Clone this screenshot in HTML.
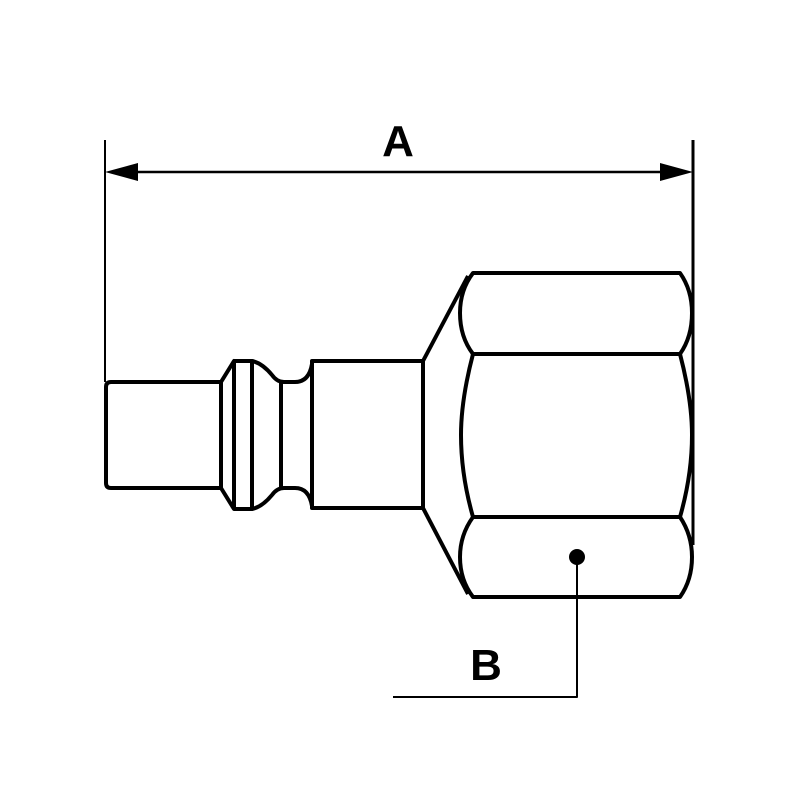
<!DOCTYPE html>
<html><head><style>body{margin:0;background:#fff}</style></head><body>
<svg width="800" height="800" viewBox="0 0 800 800" xmlns="http://www.w3.org/2000/svg">
<g fill="none" stroke="#000" stroke-linejoin="round">
<line x1="105" y1="140" x2="105" y2="382" stroke-width="2"/>
<line x1="693" y1="140" x2="693" y2="545" stroke-width="3"/>
<line x1="128" y1="172" x2="670" y2="172" stroke-width="2.5"/>
<g stroke-width="4">
<path d="M221 382 H111 Q106 382 106 387 V483 Q106 488 111 488 H221 Z"/>
<path d="M221 382 L234 361 V509 L221 488"/>
<path d="M234 361 H252 V509 H234"/>
<path d="M252 361 Q262 363 272 375 Q277 382 284 382 H295 Q309 382 312 364"/>
<path d="M252 509 Q262 507 272 495 Q277 488 284 488 H295 Q309 488 312 506"/>
<line x1="281" y1="382" x2="281" y2="488"/>
<rect x="312" y="361" width="111" height="147"/>
<path d="M423 361 L468 276"/>
<path d="M423 508 L468 594"/>
<path d="M473 273 H680 Q692 290 692 313 Q692 337 680 354 H473 Q460 337 460 313 Q460 290 473 273 Z"/>
<path d="M473 354 H680 Q692 400 692 435 Q692 475 680 517 H473 Q461 475 461 435 Q461 400 473 354 Z"/>
<path d="M473 517 H680 Q692 535 692 557 Q692 580 680 597 H473 Q460 580 460 557 Q460 535 473 517 Z"/>
</g>
<path d="M577 557 V697 H393" stroke-width="2"/>
</g>
<polygon points="105,172 138,163 138,181" fill="#000"/>
<polygon points="693,172 660,163 660,181" fill="#000"/>
<circle cx="577" cy="557" r="8" fill="#000"/>
<text x="398" y="156" font-family="Liberation Sans, sans-serif" font-weight="bold" font-size="44" text-anchor="middle">A</text>
<text x="486" y="680" font-family="Liberation Sans, sans-serif" font-weight="bold" font-size="44" text-anchor="middle">B</text>
</svg>
</body></html>
